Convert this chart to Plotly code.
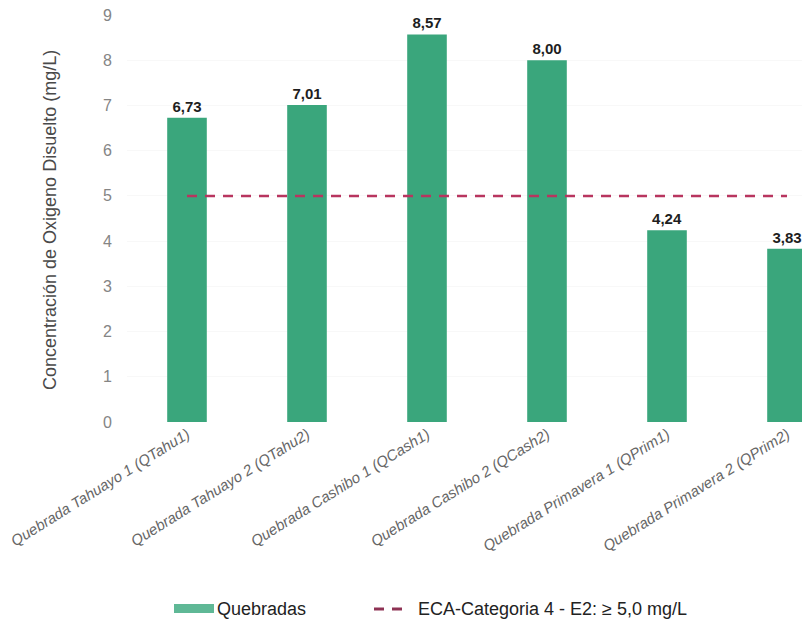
import plotly.graph_objects as go

# Dissolved oxygen per sampling point (mg/L)
estaciones = [
    "Quebrada Tahuayo 1 (QTahu1)",
    "Quebrada Tahuayo 2 (QTahu2)",
    "Quebrada Cashibo 1 (QCash1)",
    "Quebrada Cashibo 2 (QCash2)",
    "Quebrada Primavera 1 (QPrim1)",
    "Quebrada Primavera 2 (QPrim2)",
]
oxigeno = [6.73, 7.01, 8.57, 8.00, 4.24, 3.83]
eca_limite = [5.0] * len(estaciones)
y_ticks = list(range(0, 10))

BAR_COLOR = "#3aa67c"
LINE_COLOR = "#b8355f"
LEGEND_LINE = "#8e3254"
FONT = "Liberation Sans, Arial, sans-serif"

W, H = 802, 619
L, R, T, B = 127, 0, 15, 197
PW, PH = W - L - R, H - T - B


def px_x(px):
    return (px - L) / PW


def px_y(py):
    return (H - B - py) / PH


fig = go.Figure()
fig.add_trace(go.Bar(
    x=estaciones, y=oxigeno, name="Quebradas",
    marker=dict(color=BAR_COLOR, line=dict(width=0)),
    width=0.33,
    texttemplate="%{y:.2f}", textposition="outside",
    textfont=dict(family=FONT, size=15, color="#1e1e1e", weight="bold"),
    cliponaxis=False,
    showlegend=False,
))
fig.add_trace(go.Scatter(
    x=estaciones, y=eca_limite, mode="lines",
    name="ECA-Categoria 4 - E2: ≥ 5,0 mg/L",
    line=dict(color=LINE_COLOR, width=2.5, dash="10px,8px"),
    showlegend=False,
))

# Legend drawn beneath the axis
legend_y = 609
shapes = [
    dict(type="rect", xref="paper", yref="paper",
         x0=px_x(174), x1=px_x(214), y0=px_y(613), y1=px_y(604),
         fillcolor="#5fb896", line=dict(width=0)),
    dict(type="line", xref="paper", yref="paper",
         x0=px_x(374), x1=px_x(384), y0=px_y(legend_y), y1=px_y(legend_y),
         line=dict(color=LEGEND_LINE, width=3)),
    dict(type="line", xref="paper", yref="paper",
         x0=px_x(392), x1=px_x(402), y0=px_y(legend_y), y1=px_y(legend_y),
         line=dict(color=LEGEND_LINE, width=3)),
]
annotations = [
    dict(text="Quebradas", xref="paper", yref="paper",
         x=px_x(215), y=px_y(legend_y), xanchor="left", yanchor="middle",
         showarrow=False, font=dict(family=FONT, size=18, color="#222222")),
    dict(text="ECA-Categoria 4 - E2: ≥ 5,0 mg/L", xref="paper", yref="paper",
         x=px_x(416), y=px_y(legend_y), xanchor="left", yanchor="middle",
         showarrow=False, font=dict(family=FONT, size=18, color="#222222")),
    dict(text="Concentración de Oxigeno Disuelto (mg/L)", xref="paper", yref="paper",
         x=px_x(50), y=px_y(220), xanchor="center", yanchor="middle", textangle=-90,
         showarrow=False,
         font=dict(family=FONT, size=18, color="#4a4a4a")),
]

fig.update_layout(
    width=W, height=H,
    margin=dict(l=L, r=R, t=T, b=B),
    plot_bgcolor="white", paper_bgcolor="white",
    separators=",.",
    showlegend=False,
    shapes=shapes,
    annotations=annotations,
    xaxis=dict(
        range=[-0.5, (W - L) / 120 - 0.5],
        showgrid=False, zeroline=False, showline=False, ticks="",
        tickangle=-32,
        tickfont=dict(family=FONT, size=15, color="#666666", style="italic"),
    ),
    yaxis=dict(
        range=[0, 9], tickvals=y_ticks,
        showgrid=True, gridcolor="#f8f8f8", gridwidth=1,
        zeroline=False, showline=False, ticks="",
        ticklabelstandoff=14,
        tickfont=dict(family=FONT, size=16, color="#858585"),
    ),
)

fig.write_html("out.html")
